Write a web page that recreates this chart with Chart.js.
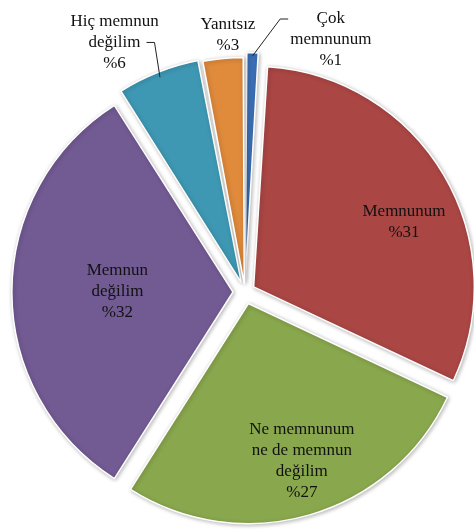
<!DOCTYPE html>
<html>
<head>
<meta charset="utf-8">
<script src="https://cdn.jsdelivr.net/npm/chart.js@4.4.1/dist/chart.umd.min.js"></script>
<style>
  html, body { margin: 0; padding: 0; background: #fff; }
  #wrap { width: 474px; height: 532px; position: relative; }
</style>
</head>
<body>
<div id="wrap"><canvas id="chart"></canvas></div>
<script>
// Data
const categories = ['Çok memnunum', 'Memnunum', 'Ne memnunum ne de memnun değilim', 'Memnun değilim', 'Hiç memnun değilim', 'Yanıtsız'];
const values = [1, 31, 27, 32, 6, 3];
const labelLines = [
  ['Çok', 'memnunum'],
  ['Memnunum'],
  ['Ne memnunum', 'ne de memnun', 'değilim'],
  ['Memnun', 'değilim'],
  ['Hiç memnun', 'değilim'],
  ['Yanıtsız']
];

// Styles
const colors = ['#3b6fb4', '#aa4644', '#89a74d', '#725a93', '#3e98b3', '#e08a3c'];
// how far each slice is pulled out, in px (Chart.js moves an arc by offset / 4)
const explode = [10, 10, 12, 12, 10, 8];
// label placement: angle shift (deg) from slice middle, distance as fraction of radius
const labelPlace = [
  { shift: 17, r: 1.21 },
  { shift: 6.8, r: 0.79 },
  { shift: -2.4, r: 0.81 },
  { shift: 0, r: 0.58 },
  { shift: -6, r: 1.28 },
  { shift: 1.6, r: 1.17 }
];
// leader lines for outer labels
const leaders = {
  0: { yLine: 0, edgeLine: 1, side: 'left', gap: 2, run: 8, extra: 6 },
  4: { yLine: 1, edgeLine: 1, side: 'right', gap: 6, run: 8, extra: 1 }
};
const FONT = '17px "Liberation Serif", "Times New Roman", serif';
const LINE_H = 21;

const labelPlugin = {
  id: 'sliceLabels',
  afterDatasetsDraw(chart) {
    const ctx = chart.ctx;
    const meta = chart.getDatasetMeta(0);
    ctx.save();
    ctx.font = FONT;
    ctx.fillStyle = '#111';
    ctx.textAlign = 'center';
    ctx.textBaseline = 'middle';
    meta.data.forEach((arc, i) => {
      const p = arc.getProps(['x', 'y', 'startAngle', 'endAngle', 'outerRadius']);
      const mid = (p.startAngle + p.endAngle) / 2;
      const ang = mid + labelPlace[i].shift * Math.PI / 180;
      const dist = p.outerRadius * labelPlace[i].r;
      const cx = p.x + Math.cos(ang) * dist;
      const cy = p.y + Math.sin(ang) * dist;
      const lines = labelLines[i].concat('%' + values[i]);
      const top = cy - (lines.length - 1) * LINE_H / 2;
      lines.forEach((t, k) => ctx.fillText(t, cx, top + k * LINE_H));

      const ld = leaders[i];
      if (ld) {
        const w = ctx.measureText(lines[ld.edgeLine]).width;
        const ly = top + ld.yLine * LINE_H;
        const sx = ld.side === 'left' ? cx - w / 2 - ld.gap : cx + w / 2 + ld.gap;
        const bx = ld.side === 'left' ? sx - ld.run : sx + ld.run;
        const reach = p.outerRadius + explode[i] + ld.extra;
        const ex = p.x + Math.cos(mid) * reach;
        const ey = p.y + Math.sin(mid) * reach;
        ctx.beginPath();
        ctx.strokeStyle = '#222';
        ctx.lineWidth = 1;
        ctx.moveTo(sx, ly);
        ctx.lineTo(bx, ly);
        ctx.lineTo(ex, ey);
        ctx.stroke();
      }
    });
    ctx.restore();
  }
};

const shadowPlugin = {
  id: 'sliceShadow',
  beforeDatasetDraw(chart) {
    const ctx = chart.ctx;
    ctx.save();
    ctx.shadowColor = 'rgba(0,0,0,0.28)';
    ctx.shadowBlur = 4;
    ctx.shadowOffsetX = 1;
    ctx.shadowOffsetY = 1;
  },
  afterDatasetDraw(chart) {
    chart.ctx.restore();
  }
};

new Chart(document.getElementById('chart'), {
  type: 'pie',
  data: {
    labels: categories,
    datasets: [{
      data: values,
      backgroundColor: colors,
      borderColor: '#ffffff',
      borderWidth: 1.5,
      offset: explode.map(v => v * 4),
      hoverOffset: 0,
      clip: false
    }]
  },
  options: {
    responsive: true,
    maintainAspectRatio: false,
    animation: false,
    radius: 220,
    layout: { padding: { left: 16, right: 0, top: 52, bottom: 0 } },
    plugins: {
      legend: { display: false },
      tooltip: { enabled: false }
    }
  },
  plugins: [shadowPlugin, labelPlugin]
});
</script>
</body>
</html>
